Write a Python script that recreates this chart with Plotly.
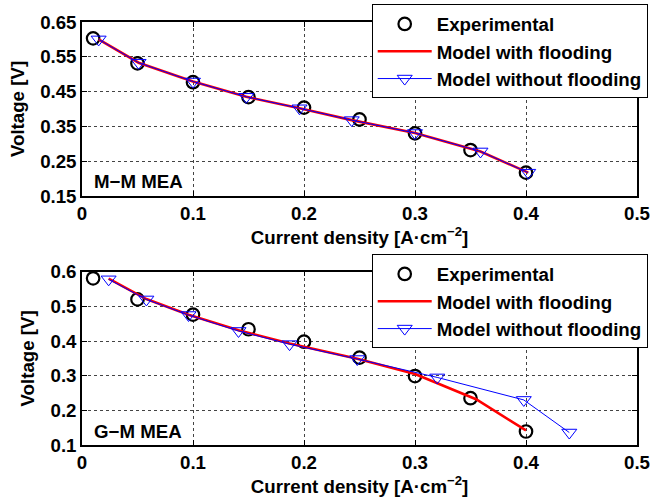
import plotly.graph_objects as go

# Current density [A/cm2] and cell voltage [V]
x_exp = [0.01, 0.05, 0.10, 0.15, 0.20, 0.25, 0.30, 0.35, 0.40]

# M-M MEA
v_exp_mm = [0.603, 0.531, 0.477, 0.434, 0.404, 0.370, 0.330, 0.282, 0.217]
x_flood_mm = [0.015, 0.051, 0.100, 0.148, 0.196, 0.243, 0.300, 0.359, 0.402]
v_flood_mm = [0.600, 0.533, 0.479, 0.435, 0.402, 0.368, 0.331, 0.278, 0.217]
x_noflood_mm = [0.015, 0.051, 0.100, 0.148, 0.196, 0.243, 0.300, 0.359, 0.402]
v_noflood_mm = [0.600, 0.533, 0.479, 0.435, 0.402, 0.368, 0.331, 0.278, 0.217]

# G-M MEA
v_exp_gm = [0.581, 0.520, 0.476, 0.434, 0.398, 0.352, 0.299, 0.235, 0.139]
x_flood_gm = [0.024, 0.058, 0.096, 0.141, 0.187, 0.248, 0.300, 0.355, 0.400]
v_flood_gm = [0.580, 0.521, 0.476, 0.431, 0.393, 0.349, 0.305, 0.232, 0.142]
x_noflood_gm = [0.024, 0.058, 0.096, 0.141, 0.187, 0.248, 0.320, 0.398, 0.439]
v_noflood_gm = [0.578, 0.520, 0.475, 0.429, 0.391, 0.348, 0.295, 0.230, 0.136]

x_ticks = [0, 0.1, 0.2, 0.3, 0.4, 0.5]
x_ticktext = ["0", "0.1", "0.2", "0.3", "0.4", "0.5"]
y_ticks_mm = [0.15, 0.25, 0.35, 0.45, 0.55, 0.65]
y_ticks_gm = [0.1, 0.2, 0.3, 0.4, 0.5, 0.6]

FONT = "Liberation Sans, Arial, sans-serif"
FS = 18.7

fig = go.Figure()

panels = [
    ("x", "y", "legend", v_exp_mm, x_flood_mm, v_flood_mm, x_noflood_mm, v_noflood_mm),
    ("x2", "y2", "legend2", v_exp_gm, x_flood_gm, v_flood_gm, x_noflood_gm, v_noflood_gm),
]

for xa, ya, lg, v_exp, xf, vf, xn, vn in panels:
    fig.add_trace(go.Scatter(
        x=x_exp, y=v_exp, mode="markers", name="Experimental",
        xaxis=xa, yaxis=ya, legend=lg, legendgroup=lg + "a",
        marker=dict(symbol="circle-open", size=12.5, color="black",
                    line=dict(width=2.2, color="black")),
    ))
    fig.add_trace(go.Scatter(
        x=xf, y=vf, mode="lines", name="Model with flooding",
        xaxis=xa, yaxis=ya, legend=lg, legendgroup=lg + "b",
        line=dict(color="#ff0000", width=2.6),
    ))
    fig.add_trace(go.Scatter(
        x=xn, y=vn, mode="lines+markers", name="Model without flooding",
        xaxis=xa, yaxis=ya, legend=lg, legendgroup=lg + "c",
        line=dict(color="#0000ff", width=1),
        marker=dict(symbol="triangle-down-open", size=13, color="#0000ff",
                    line=dict(width=1, color="#0000ff")),
    ))

axis_common = dict(
    showline=True, linecolor="black", linewidth=1.5, mirror="ticks",
    ticks="inside", ticklen=5, tickwidth=1, tickcolor="black",
    showgrid=True, gridcolor="#444444", griddash="dot", gridwidth=1,
    zeroline=False,
    tickfont=dict(family=FONT, size=FS, color="black", weight="bold"),
)

xtitle = dict(text="Current density [A·cm<sup>−2</sup>]",
              font=dict(family=FONT, size=FS, color="black", weight="bold"),
              standoff=1)
ytitle = dict(text="Voltage [V]",
              font=dict(family=FONT, size=FS, color="black", weight="bold"),
              standoff=11)

legend_common = dict(
    xanchor="left", yanchor="top", bgcolor="white",
    bordercolor="black", borderwidth=1,
    font=dict(family=FONT, size=FS, color="black", weight="bold"),
    itemwidth=54, tracegroupgap=0, traceorder="grouped",
)

fig.update_layout(
    width=654, height=498,
    margin=dict(l=82, r=17, t=22, b=53, autoexpand=False),
    paper_bgcolor="white", plot_bgcolor="white",
    font=dict(family=FONT, size=FS, color="black", weight="bold"),
    showlegend=True,
    xaxis=dict(axis_common, domain=[0, 1], range=[0, 0.5], anchor="y",
               tickvals=x_ticks, ticktext=x_ticktext, title=xtitle),
    yaxis=dict(axis_common, domain=[0.5887, 1], range=[0.15, 0.65], anchor="x",
               tickvals=y_ticks_mm, tickformat=".2f", title=ytitle),
    xaxis2=dict(axis_common, domain=[0, 1], range=[0, 0.5], anchor="y2",
                tickvals=x_ticks, ticktext=x_ticktext, title=xtitle),
    yaxis2=dict(axis_common, domain=[0, 0.4097], range=[0.1, 0.6], anchor="x2",
                tickvals=y_ticks_gm, tickformat=".1f", title=ytitle),
    legend=dict(legend_common, x=0.522, y=1.0419),
    legend2=dict(legend_common, x=0.522, y=0.4508),
    annotations=[
        dict(text="M−M MEA", x=0.0087, y=0.191, xref="x", yref="y",
             xanchor="left", yanchor="middle", showarrow=False,
             font=dict(family=FONT, size=FS, color="black", weight="bold")),
        dict(text="G−M MEA", x=0.0087, y=0.138, xref="x2", yref="y2",
             xanchor="left", yanchor="middle", showarrow=False,
             font=dict(family=FONT, size=FS, color="black", weight="bold")),
    ],
)

fig.write_html("out.html")
